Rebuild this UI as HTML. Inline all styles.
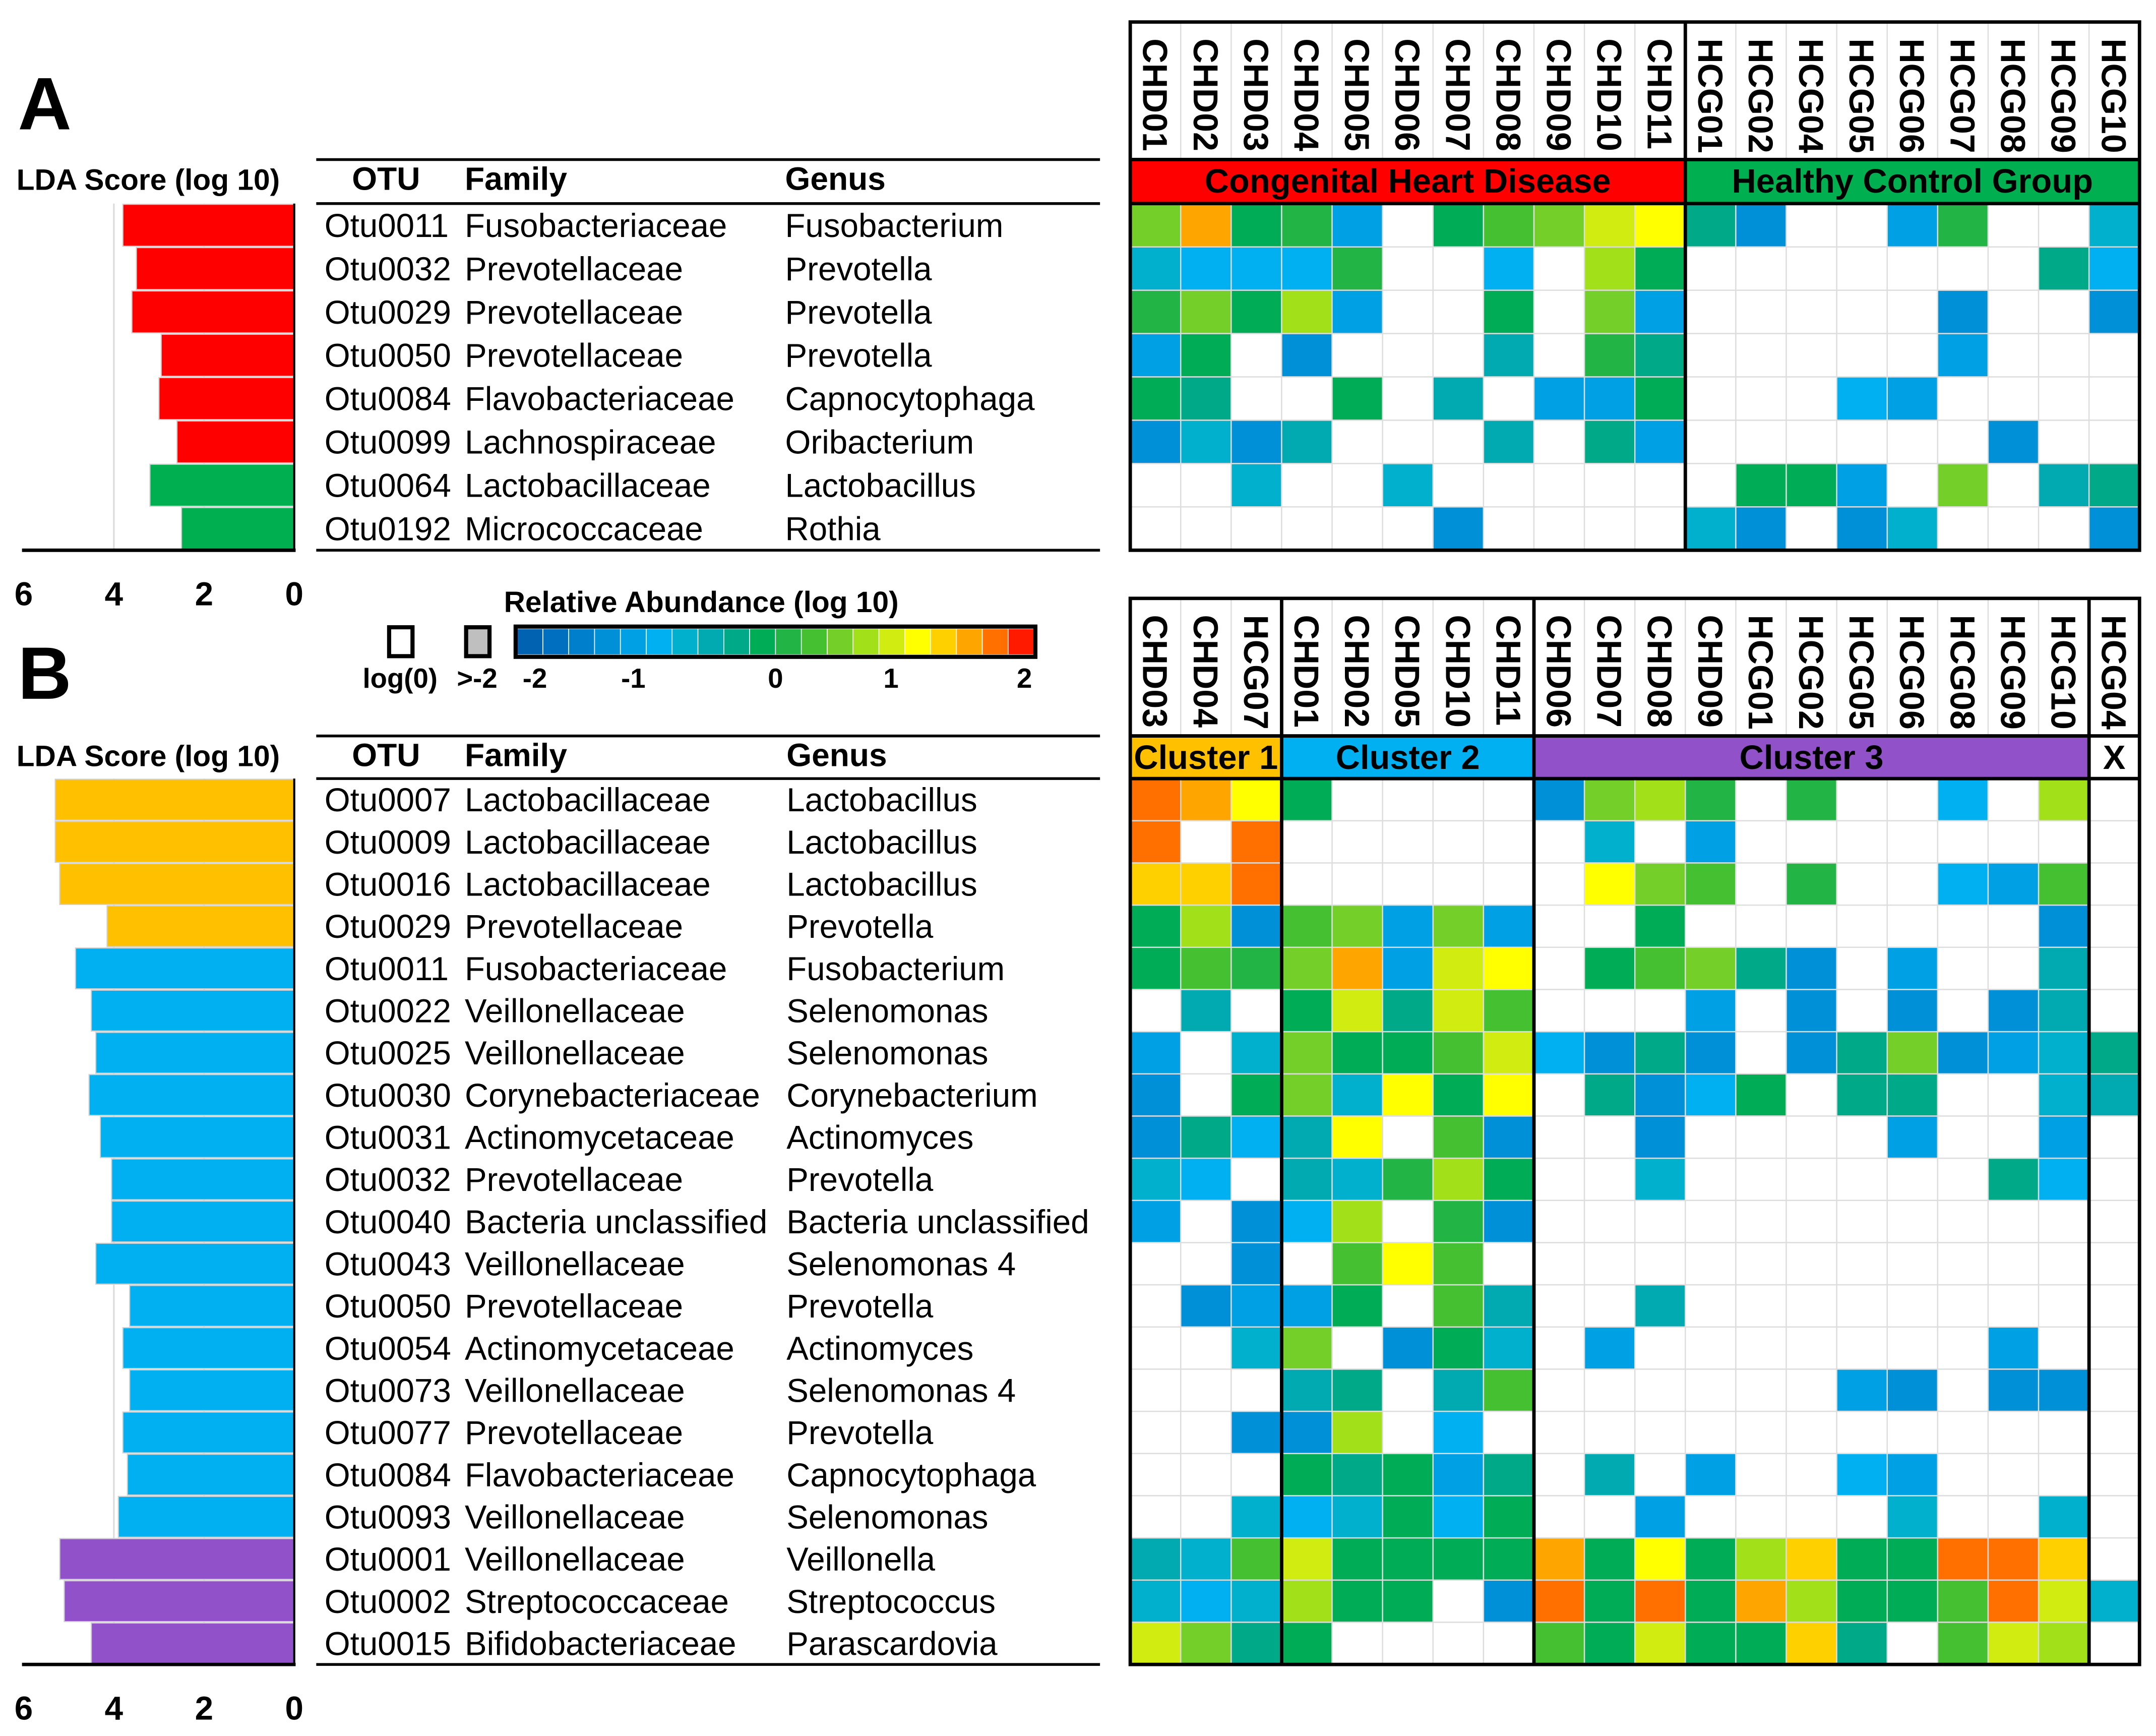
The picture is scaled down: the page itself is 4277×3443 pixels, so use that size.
<!DOCTYPE html>
<html><head><meta charset="utf-8"><style>
html,body{margin:0;padding:0;background:#fff}
svg{display:block;font-family:"Liberation Sans",Arial,sans-serif}
</style></head><body>
<svg id="fig" width="4277" height="3443" viewBox="0 0 1568 1262" preserveAspectRatio="none" xmlns="http://www.w3.org/2000/svg"></svg>
<script>
const n = null;
// ---- Panel A data ----
const otuA = ["Otu0011","Otu0032","Otu0029","Otu0050","Otu0084","Otu0099","Otu0064","Otu0192"];
const famA = ["Fusobacteriaceae","Prevotellaceae","Prevotellaceae","Prevotellaceae","Flavobacteriaceae","Lachnospiraceae","Lactobacillaceae","Micrococcaceae"];
const genA = ["Fusobacterium","Prevotella","Prevotella","Prevotella","Capnocytophaga","Oribacterium","Lactobacillus","Rothia"];
const ldaA = [3.8,3.5,3.6,2.95,3.0,2.6,3.2,2.5];
const ldaGroupA = [0,0,0,0,0,0,1,1];
const samplesA = ["CHD01","CHD02","CHD03","CHD04","CHD05","CHD06","CHD07","CHD08","CHD09","CHD10","CHD11","HCG01","HCG02","HCG04","HCG05","HCG06","HCG07","HCG08","HCG09","HCG10"];
const groupsA = [{name:"Congenital Heart Disease",n:11,color:"#ff0000"},{name:"Healthy Control Group",n:9,color:"#00b050"}];
const heatA = [
 [0.5,1.5,-0.1,0.1,-1.1,n,-0.1,0.3,0.5,0.9,1.1, -0.4,-1.3,n,n,-1.1,0.1,n,n,-0.6],
 [-0.6,-0.8,-0.8,-0.9,0.1,n,n,-0.8,n,0.7,-0.1, n,n,n,n,n,n,n,-0.3,-0.9],
 [0.1,0.5,-0.1,0.7,-1.1,n,n,-0.1,n,0.5,-1.1, n,n,n,n,n,-1.3,n,n,-1.3],
 [-1.1,-0.1,n,-1.3,n,n,n,-0.5,n,0.1,-0.4, n,n,n,n,n,-1.1,n,n,n],
 [-0.1,-0.3,n,n,-0.1,n,-0.5,n,-1.1,-1.1,-0.2, n,n,n,-0.9,-1.1,n,n,n,n],
 [-1.3,-0.7,-1.3,-0.5,n,n,n,-0.5,n,-0.4,-1.1, n,n,n,n,n,n,-1.3,n,n],
 [n,n,-0.6,n,n,-0.7,n,n,n,n,n, n,-0.1,-0.1,-1.1,n,0.5,n,-0.5,-0.3],
 [n,n,n,n,n,n,-1.3,n,n,n,n, -0.7,-1.3,n,-1.3,-0.6,n,n,n,-1.3]
];
// ---- Panel B data ----
const otuB = ["Otu0007","Otu0009","Otu0016","Otu0029","Otu0011","Otu0022","Otu0025","Otu0030","Otu0031","Otu0032","Otu0040","Otu0043","Otu0050","Otu0054","Otu0073","Otu0077","Otu0084","Otu0093","Otu0001","Otu0002","Otu0015"];
const famB = ["Lactobacillaceae","Lactobacillaceae","Lactobacillaceae","Prevotellaceae","Fusobacteriaceae","Veillonellaceae","Veillonellaceae","Corynebacteriaceae","Actinomycetaceae","Prevotellaceae","Bacteria unclassified","Veillonellaceae","Prevotellaceae","Actinomycetaceae","Veillonellaceae","Prevotellaceae","Flavobacteriaceae","Veillonellaceae","Veillonellaceae","Streptococcaceae","Bifidobacteriaceae"];
const genB = ["Lactobacillus","Lactobacillus","Lactobacillus","Prevotella","Fusobacterium","Selenomonas","Selenomonas","Corynebacterium","Actinomyces","Prevotella","Bacteria unclassified","Selenomonas 4","Prevotella","Actinomyces","Selenomonas 4","Prevotella","Capnocytophaga","Selenomonas","Veillonella","Streptococcus","Parascardovia"];
const ldaB = [5.3,5.3,5.2,4.15,4.85,4.5,4.4,4.55,4.3,4.05,4.05,4.4,3.65,3.8,3.65,3.8,3.7,3.9,5.2,5.1,4.5];
const ldaGroupB = [0,0,0,0,1,1,1,1,1,1,1,1,1,1,1,1,1,1,2,2,2];
const samplesB = ["CHD03","CHD04","HCG07","CHD01","CHD02","CHD05","CHD10","CHD11","CHD06","CHD07","CHD08","CHD09","HCG01","HCG02","HCG05","HCG06","HCG08","HCG09","HCG10","HCG04"];
const groupsB = [{name:"Cluster 1",n:3,color:"#ffc000"},{name:"Cluster 2",n:5,color:"#00b0f0"},{name:"Cluster 3",n:11,color:"#9152c9"},{name:"X",n:1,color:"#ffffff"}];
const heatB = [
 [1.7,1.5,1.1, -0.1,n,n,n,n, -1.3,0.5,0.7,0.1,n,0.1,n,n,-0.9,n,0.8, n],
 [1.7,n,1.7, n,n,n,n,n, n,-0.6,n,-1.1,n,n,n,n,n,n,n, n],
 [1.2,1.3,1.6, n,n,n,n,n, n,1.1,0.5,0.3,n,0.1,n,n,-0.9,-1.1,0.3, n],
 [-0.1,0.7,-1.3, 0.2,0.5,-1.1,0.5,-1.1, n,n,-0.1,n,n,n,n,n,n,n,-1.3, n],
 [-0.1,0.2,0.1, 0.5,1.5,-1.1,0.9,1.1, n,-0.1,0.3,0.5,-0.4,-1.3,n,-1.1,n,n,-0.5, n],
 [n,-0.5,n, -0.1,0.9,-0.3,0.9,0.2, n,n,n,-1.1,n,-1.3,n,-1.3,n,-1.3,-0.5, n],
 [-1.1,n,-0.7, 0.5,-0.1,-0.1,0.3,0.9, -0.9,-1.3,-0.3,-1.3,n,-1.3,-0.3,0.5,-1.3,-1.1,-0.7, -0.3],
 [-1.3,n,-0.2, 0.5,-0.6,1.0,-0.2,1.1, n,-0.4,-1.3,-0.9,-0.1,n,-0.4,-0.3,n,n,-0.7, -0.5],
 [-1.3,-0.3,-0.9, -0.5,1.1,n,0.2,-1.3, n,n,-1.3,n,n,n,n,-1.1,n,n,-1.1, n],
 [-0.7,-0.9,n, -0.5,-0.7,0.0,0.7,-0.1, n,n,-0.7,n,n,n,n,n,n,-0.3,-0.9, n],
 [-1.1,n,-1.3, -0.9,0.7,n,0.1,-1.3, n,n,n,n,n,n,n,n,n,n,n, n],
 [n,n,-1.3, n,0.3,1.1,0.2,n, n,n,n,n,n,n,n,n,n,n,n, n],
 [n,-1.3,-1.1, -1.1,-0.1,n,0.2,-0.5, n,n,-0.5,n,n,n,n,n,n,n,n, n],
 [n,n,-0.6, 0.5,n,-1.3,-0.1,-0.7, n,-1.1,n,n,n,n,n,n,n,-1.1,n, n],
 [n,n,n, -0.5,-0.3,n,-0.5,0.2, n,n,n,n,n,n,-1.1,-1.3,n,-1.3,-1.3, n],
 [n,n,-1.3, -1.3,0.6,n,-0.9,n, n,n,n,n,n,n,n,n,n,n,n, n],
 [n,n,n, -0.1,-0.3,-0.2,-1.1,-0.3, n,-0.5,n,-1.1,n,n,-0.9,-1.1,n,n,n, n],
 [n,n,-0.7, -0.9,-0.7,-0.1,-0.9,-0.1, n,n,-1.1,n,n,n,n,-0.6,n,n,-0.6, n],
 [-0.5,-0.7,0.2, 0.9,-0.2,-0.1,-0.1,-0.1, 1.5,-0.1,1.1,-0.1,0.7,1.2,-0.1,-0.1,1.6,1.6,1.3, n],
 [-0.7,-0.9,-0.7, 0.6,-0.1,-0.1,n,-1.3, 1.7,-0.1,1.7,-0.1,1.4,0.7,-0.1,-0.1,0.3,1.6,0.9, -0.7],
 [0.9,0.5,-0.3, -0.1,n,n,n,n, 0.2,-0.1,0.9,-0.1,-0.1,1.2,-0.3,n,0.3,0.9,0.7, n]
];
const palette = ["#0062b0","#006fc0","#0080cc","#0090d8","#00a0e4","#00b0f0","#00b0cc","#00aab0","#00aa88","#00ac55","#22b444","#44c030","#74d028","#a2e01a","#d0ec10","#ffff00","#ffd000","#ffa500","#ff7000","#ff1a00"];
const ticksCB = ["-2","-1","0","1","2"];
const tickPosCB = [-2,-1.1,0.0,1.0,2];
const ldaTicks = [6,4,2,0];

const svg = document.getElementById('fig');
const NS = "http://www.w3.org/2000/svg";
function mk(tag, attrs, parent, txt){
  const e = document.createElementNS(NS, tag);
  for (const k in attrs) e.setAttribute(k, attrs[k]);
  if (txt !== undefined) e.textContent = txt;
  (parent||svg).appendChild(e);
  return e;
}
function colorOf(v){ let b = Math.floor((v+2)/0.2); b = Math.max(0, Math.min(19, b)); return palette[b]; }
const ldaX = v => 214 - v*32.8;

function panel(P){
  const g = mk('g', {});
  
  
  let t = mk('text', {x:13, y:P.letterY, 'font-size':54, 'font-weight':'bold'}, g, P.key==='a'?'A':'B');
   
  t = mk('text', {x:12, y:P.headY+22, 'font-size':21.5, 'font-weight':'bold'}, g, 'LDA Score (log 10)');
   
  const nr = P.otu.length, rh = (P.bot - P.top)/nr;
  for (const v of [4,2]) { const l = mk('line', {x1:ldaX(v), x2:ldaX(v), y1:P.top, y2:P.bot, stroke:'#dcdcdc', 'stroke-width':1.2}, g);   }
  P.lda.forEach((v,i)=>{
    const r = mk('rect', {x:ldaX(v), y:P.top+i*rh+0.5, width:214-ldaX(v), height:rh-1, fill:P.barColors[P.ldaGroup[i]], stroke:'#d0d0d0', 'stroke-width':0.8}, g);
    
    
  });
  let l = mk('line', {x1:214, x2:214, y1:P.top, y2:P.bot, stroke:'#000', 'stroke-width':1.5}, g);
   
  l = mk('line', {x1:16, x2:215, y1:P.bot, y2:P.bot, stroke:'#000', 'stroke-width':2.5}, g);
   
  ldaTicks.forEach(v=>{
    const tt = mk('text', {x:ldaX(v), y:P.bot+40, 'font-size':24, 'font-weight':'bold', 'text-anchor':'middle'}, g, String(v));
     
  });
  l = mk('line', {x1:230, x2:800, y1:P.headY, y2:P.headY, stroke:'#000', 'stroke-width':2}, g);  
  l = mk('line', {x1:230, x2:800, y1:P.top, y2:P.top, stroke:'#000', 'stroke-width':2}, g);  
  l = mk('line', {x1:230, x2:800, y1:P.bot, y2:P.bot, stroke:'#000', 'stroke-width':2}, g);  
  [['OTU',256],['Family',338],['Genus',P.genX]].forEach(([s,x])=>{
    const h = mk('text', {x:x, y:P.headY+22, 'font-size':23.5, 'font-weight':'bold'}, g, s);
     
  });
  for (let i=0;i<nr;i++){
    const y = P.top + (i+0.5)*rh + 8.5;
    let a = mk('text', {x:236, y:y, 'font-size':24}, g, P.otu[i]);  
    a = mk('text', {x:338, y:y, 'font-size':24}, g, P.fam[i]);  
    a = mk('text', {x:P.genX, y:y, 'font-size':24}, g, P.gen[i]);  
  }
  const hx0 = 822, hx1 = 1556, nc = P.samples.length, cw = (hx1-hx0)/nc;
  const hm = mk('g', {}, g);  
  for (let i=0;i<nr;i++) for (let j=0;j<nc;j++){
    const v = P.heat[i][j];
    const c = mk('rect', {x:hx0+j*cw, y:P.top+i*rh, width:cw, height:rh, fill: v===null?'#ffffff':colorOf(v), stroke:'#dddddd', 'stroke-width':0.9}, hm);
    
    
  }
  const hy0 = P.headY - 100;
  P.samples.forEach((s,j)=>{
    const cx = hx0+(j+0.5)*cw;
    const gl = mk('line', {x1:hx0+j*cw, x2:hx0+j*cw, y1:hy0, y2:P.headY, stroke:'#dddddd', 'stroke-width':0.9}, g);
     
    const st = mk('text', {x:0, y:0, 'font-size':25, 'font-weight':'bold', transform:`translate(${cx-9},${hy0+12}) rotate(90)`}, g, s);
     
  });
  let cum = 0;
  P.groups.forEach((gr,k)=>{
    const x = hx0+cum*cw, w = gr.n*cw;
    const r = mk('rect', {x:x, y:P.headY, width:w, height:P.top-P.headY, fill:gr.color}, g);
    
    
    const tt = mk('text', {x:x+w/2, y:P.headY+24, 'font-size':24.5, 'font-weight':'bold', 'text-anchor':'middle'}, g, gr.name);
     
    if (k>0){ const dl = mk('line', {x1:x, x2:x, y1:hy0, y2:P.bot, stroke:'#000', 'stroke-width':2.5}, g);   }
    cum += gr.n;
  });
  l = mk('line', {x1:hx0, x2:hx1, y1:P.headY, y2:P.headY, stroke:'#000', 'stroke-width':2.5}, g);  
  l = mk('line', {x1:hx0, x2:hx1, y1:P.top, y2:P.top, stroke:'#000', 'stroke-width':2.5}, g);  
  const fr = mk('rect', {x:hx0, y:hy0, width:hx1-hx0, height:P.bot-hy0, fill:'none', stroke:'#000', 'stroke-width':2.5}, g);
   
}

panel({key:'a', letterY:94, headY:116, top:148, bot:400, otu:otuA, fam:famA, gen:genA, lda:ldaA, ldaGroup:ldaGroupA, barColors:["#ff0000","#00b050"], samples:samplesA, groups:groupsA, heat:heatA, genX:571});
panel({key:'b', letterY:508, headY:535, top:566, bot:1210, otu:otuB, fam:famB, gen:genB, lda:ldaB, ldaGroup:ldaGroupB, barColors:["#ffc000","#00b0f0","#9152c9"], samples:samplesB, groups:groupsB, heat:heatB, genX:572});

const lg = mk('g', {});  
let tl = mk('text', {x:510, y:445, 'font-size':21.5, 'font-weight':'bold', 'text-anchor':'middle'}, lg, 'Relative Abundance (log 10)');
 
let bx = mk('rect', {x:283, y:456, width:17, height:21, fill:'#fff', stroke:'#000', 'stroke-width':3}, lg);
 
bx = mk('rect', {x:339, y:456, width:17, height:21, fill:'#bfbfbf', stroke:'#000', 'stroke-width':3}, lg);
 
const cbx0 = 376, cbx1 = 752, cbw = (cbx1-cbx0)/palette.length;
palette.forEach((c,i)=>{
  const r = mk('rect', {x:cbx0+i*cbw, y:457, width:cbw, height:19, fill:c, stroke:'#ffffff', 'stroke-width':0.6}, lg);
   
});
bx = mk('rect', {x:cbx0-1, y:455.5, width:cbx1-cbx0+2, height:22, fill:'none', stroke:'#000', 'stroke-width':3}, lg);
 
const cbX = v => cbx0 + (v+2)/4*(cbx1-cbx0);
ticksCB.forEach((s,i)=>{
  const t = mk('text', {x:cbX(tickPosCB[i])+(i===0?13:(i===4?-7:(i===3?-10:0))), y:500, 'font-size':20, 'font-weight':'bold', 'text-anchor':'middle'}, lg, s);
   
});
tl = mk('text', {x:291, y:500, 'font-size':20, 'font-weight':'bold', 'text-anchor':'middle'}, lg, 'log(0)');
 
tl = mk('text', {x:347, y:500, 'font-size':20, 'font-weight':'bold', 'text-anchor':'middle'}, lg, '>-2');
 
</script>
</body></html>
